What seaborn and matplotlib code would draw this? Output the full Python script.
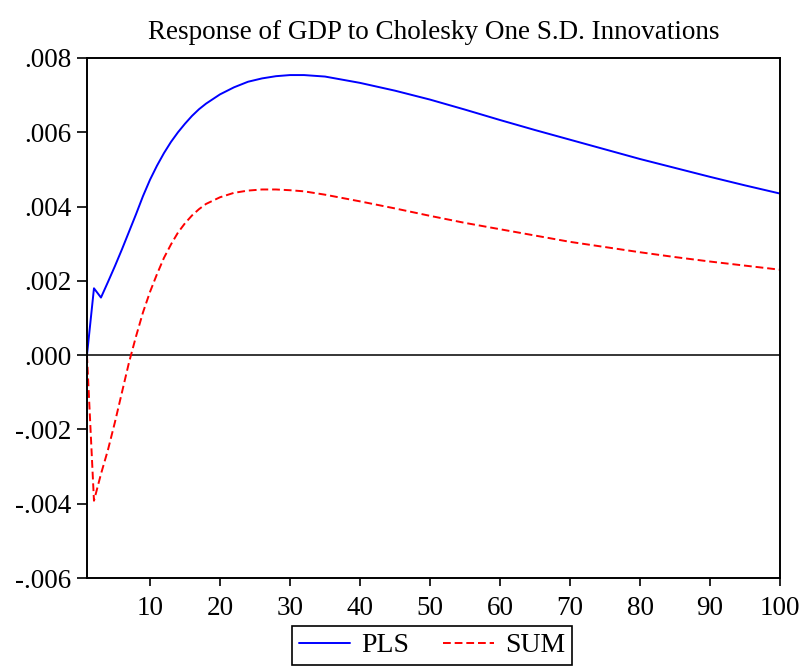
import numpy as np
import pandas as pd
import seaborn as sns
import matplotlib
matplotlib.use("Agg")
from matplotlib import pyplot as plt
from matplotlib.ticker import FuncFormatter

# periods (denser where the curves bend)
periods = [1, 2, 3, 4, 5, 6, 7, 8, 9, 10, 11, 12, 13, 14, 15, 16, 17, 18,
           20, 22, 24, 26, 28, 30, 32, 35, 40, 45, 50, 55, 60, 65, 70, 75,
           80, 85, 90, 95, 100]

pls = [0.0, 0.00180, 0.00155, 0.00197, 0.00240, 0.00285, 0.00332, 0.00379,
       0.00428, 0.00472, 0.00510, 0.00544, 0.00574, 0.00600, 0.00623,
       0.00644, 0.00662, 0.00677, 0.00702, 0.00721, 0.00736, 0.00745,
       0.00751, 0.00754, 0.00754, 0.00750, 0.00733, 0.00712, 0.00688,
       0.00661, 0.00633, 0.00606, 0.00580, 0.00554, 0.00528, 0.00504,
       0.00480, 0.00457, 0.00435]

sum_ = [0.0, -0.00392, -0.00320, -0.00255, -0.00180, -0.00100, -0.00020,
        0.00050, 0.00115, 0.00170, 0.00218, 0.00262, 0.00298, 0.00330,
        0.00355, 0.00376, 0.00393, 0.00407, 0.00425, 0.00437, 0.00443,
        0.00446, 0.00446, 0.00444, 0.00441, 0.00432, 0.00414, 0.00395,
        0.00375, 0.00356, 0.00339, 0.00322, 0.00305, 0.00291, 0.00277,
        0.00264, 0.00252, 0.00241, 0.00230]

xticks = [10, 20, 30, 40, 50, 60, 70, 80, 90, 100]
yticks = [-0.006, -0.004, -0.002, 0.0, 0.002, 0.004, 0.006, 0.008]

sns.set_style("ticks")
plt.rcParams['font.family'] = ['Liberation Serif', 'DejaVu Serif']
plt.rcParams['text.color'] = 'black'

fig = plt.figure(figsize=(8.03, 6.68), dpi=100)
ax = fig.add_axes([0.1083, 0.1347, 0.8631, 0.7785])

df = pd.DataFrame({'period': periods, 'PLS': pls, 'SUM': sum_})
sns.lineplot(data=df, x='period', y='PLS', ax=ax, color='#0000ff',
             linewidth=1.4, label='PLS')
sns.lineplot(data=df, x='period', y='SUM', ax=ax, color='#ff0000',
             linewidth=1.4, linestyle=(0, (4, 2)), label='SUM')
ax.axhline(0, color='black', linewidth=1.1, zorder=1)

ax.set_xlim(1, 100)
ax.set_ylim(-0.006, 0.008)
ax.set_xticks(xticks)
ax.set_yticks(yticks)


def fmt(v, pos):
    s = '%.3f' % v
    if s.startswith('-0'):
        return '-' + s[2:]
    if s.startswith('0'):
        return s[1:]
    return s


ax.yaxis.set_major_formatter(FuncFormatter(fmt))
ax.tick_params(axis='both', direction='out', length=7.5, width=1.2,
               labelsize=19.5, colors='black', pad=3.5)
ax.tick_params(axis='x', length=6, pad=7)
for sp in ax.spines.values():
    sp.set_visible(True)
    sp.set_linewidth(1.4)
    sp.set_color('black')

ax.set_xlabel('')
ax.set_ylabel('')
ax.set_title('Response of GDP to Cholesky One S.D. Innovations',
             fontsize=19.5, pad=14, color='black')

ax.get_legend().remove()
leg = fig.legend(*ax.get_legend_handles_labels(), loc='upper center',
                 bbox_to_anchor=(0.538, 0.0629), ncol=2, fontsize=20,
                 frameon=True, fancybox=False, edgecolor='black',
                 framealpha=1, handlelength=1.85, handletextpad=0.4,
                 columnspacing=1.2, borderpad=0.25, borderaxespad=0,
                 labelcolor='black')
leg.get_frame().set_linewidth(1.2)

fig.savefig('out.png', dpi=100)
